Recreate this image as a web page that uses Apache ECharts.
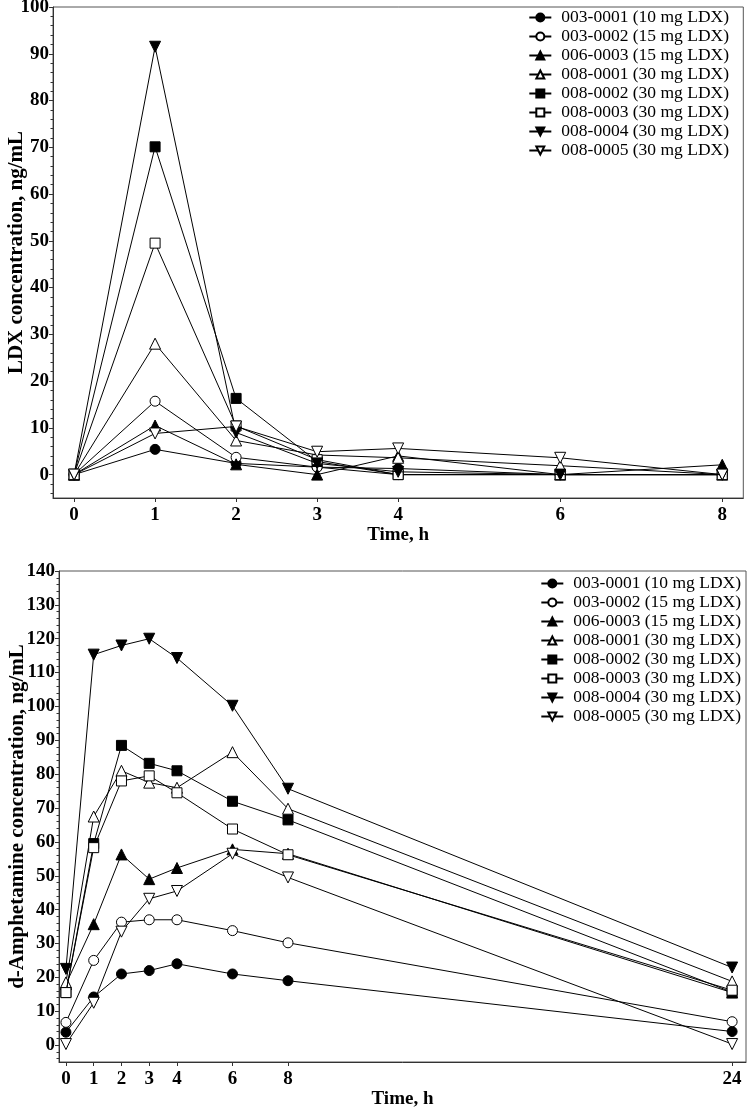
<!DOCTYPE html>
<html>
<head>
<meta charset="utf-8">
<script src="https://cdn.jsdelivr.net/npm/echarts@6/dist/echarts.min.js"></script>
<style>
html,body{margin:0;padding:0;background:#fff;}
#c{width:750px;height:1118px;}
</style>
</head>
<body>
<div id="c"></div>
<script>
// ---- data ----
var subjects = ['003-0001 (10 mg LDX)','003-0002 (15 mg LDX)','006-0003 (15 mg LDX)','008-0001 (30 mg LDX)','008-0002 (30 mg LDX)','008-0003 (30 mg LDX)','008-0004 (30 mg LDX)','008-0005 (30 mg LDX)'];

var ldxTimes = [0, 1, 2, 3, 4, 6, 8];
var ldx_003_0001 = [0, 5.4, 2.4, 1.6, 1.3, 0, 0];
var ldx_003_0002 = [0, 15.7, 3.7, 1.6, 0, 0, 0];
var ldx_006_0003 = [0, 10.5, 2.2, 0, 4.0, 0, 2.1];
var ldx_008_0001 = [0, 28.0, 7.3, 4.2, 3.6, 1.9, 0];
var ldx_008_0002 = [0, 70.1, 16.3, 2.8, 0, 0, 0];
var ldx_008_0003 = [0, 49.5, 10.4, 3.2, 0, 0, 0];
var ldx_008_0004 = [0, 91.5, 9.0, 2.4, 0.6, 0, 0];
var ldx_008_0005 = [0, 8.8, 10.3, 4.9, 5.6, 3.6, 0];

var ampTimes = [0, 1, 2, 3, 4, 6, 8, 24];
var amp_003_0001 = [3.8, 14.2, 21.0, 22.0, 24.0, 21.0, 19.0, 4.0];
var amp_003_0002 = [6.7, 25.0, 36.3, 37.0, 37.0, 33.8, 30.2, 6.9];
var amp_006_0003 = [18.0, 35.7, 56.3, 49.0, 52.3, 57.8, 56.5, 15.5];
var amp_008_0001 = [18.5, 67.5, 81.0, 77.5, 76.0, 86.5, 69.8, 18.8];
var amp_008_0002 = [15.5, 59.5, 88.5, 83.2, 81.0, 72.0, 66.5, 15.6];
var amp_008_0003 = [15.5, 58.3, 78.0, 79.5, 74.5, 63.8, 56.2, 16.2];
var amp_008_0004 = [22.5, 115.3, 118.0, 120.0, 114.3, 100.2, 75.7, 22.9];
var amp_008_0005 = [0.3, 12.5, 33.5, 43.2, 45.5, 56.5, 49.5, 0.3];

var ldxXTicks = [0, 1, 2, 3, 4, 6, 8];
var ldxYTicks = [0, 10, 20, 30, 40, 50, 60, 70, 80, 90, 100];
var ampXTicks = [0, 1, 2, 3, 4, 6, 8, 24];
var ampYTicks = [0, 10, 20, 30, 40, 50, 60, 70, 80, 90, 100, 110, 120, 130, 140];

var ldxSeries = [ldx_003_0001, ldx_003_0002, ldx_006_0003, ldx_008_0001, ldx_008_0002, ldx_008_0003, ldx_008_0004, ldx_008_0005];
var ampSeries = [amp_003_0001, amp_003_0002, amp_006_0003, amp_008_0001, amp_008_0002, amp_008_0003, amp_008_0004, amp_008_0005];

// ---- styling ----
var markers = [
  {symbol:'circle', fill:'#000', rot:0, size:10},
  {symbol:'circle', fill:'#fff', rot:0, size:10},
  {symbol:'triangle', fill:'#000', rot:0, size:11},
  {symbol:'triangle', fill:'#fff', rot:0, size:11},
  {symbol:'rect', fill:'#000', rot:0, size:10},
  {symbol:'rect', fill:'#fff', rot:0, size:10},
  {symbol:'triangle', fill:'#000', rot:180, size:11},
  {symbol:'triangle', fill:'#fff', rot:180, size:11}
];
var FONT = 'Liberation Serif, Times New Roman, serif';

function minorTicks(lo, hi, step, majors) {
  var out = [];
  for (var v = lo; v <= hi + 1e-9; v += step) {
    var r = Math.round(v * 100) / 100;
    if (majors.indexOf(r) < 0) out.push(r);
  }
  return out;
}

function buildSeries(times, arrs, gi) {
  return arrs.map(function (vals, i) {
    var m = markers[i];
    return {
      name: subjects[i],
      type: 'line',
      xAxisIndex: gi,
      yAxisIndex: gi * 2,
      data: times.map(function (t, k) { return [t, vals[k]]; }),
      symbol: m.symbol,
      symbolSize: m.size,
      symbolRotate: m.rot,
      showSymbol: true,
      lineStyle: {color: '#000', width: 1},
      itemStyle: {color: m.fill, borderColor: '#000', borderWidth: 1, opacity: 1},
      emphasis: {disabled: true},
      z: 2 + i
    };
  });
}

function xAxis(gi, min, max, ticks) {
  return {
    type: 'value', gridIndex: gi, min: min, max: max,
    name: 'Time, h', nameLocation: 'middle', nameGap: 25,
    nameTextStyle: {fontFamily: FONT, fontWeight: 'bold', fontSize: 19, color: '#000'},
    axisLine: {show: true, onZero: false, lineStyle: {color: '#333', width: 1}},
    axisTick: {show: true, customValues: ticks, length: 4, inside: false, lineStyle: {color: '#333'}},
    axisLabel: {customValues: ticks, fontFamily: FONT, fontWeight: 'bold', fontSize: 19, color: '#000', margin: 8},
    splitLine: {show: false}
  };
}

function yAxes(gi, min, max, ticks, title, gap) {
  return [{
    type: 'value', gridIndex: gi, min: min, max: max, position: 'left',
    name: title, nameLocation: 'middle', nameGap: gap, nameRotate: 90, nameMoveOverlap: false,
    nameTextStyle: {fontFamily: FONT, fontWeight: 'bold', fontSize: 21, color: '#000'},
    axisLine: {show: true, onZero: false, lineStyle: {color: '#333', width: 1}},
    axisTick: {show: true, customValues: ticks, length: 4, inside: false, lineStyle: {color: '#333'}},
    axisLabel: {customValues: ticks, fontFamily: FONT, fontWeight: 'bold', fontSize: 19, color: '#000', margin: 4},
    splitLine: {show: false}
  }, {
    type: 'value', gridIndex: gi, min: min, max: max, position: 'left', offset: 0,
    axisLine: {show: false, onZero: false},
    axisTick: {show: true, customValues: minorTicks(min + 1, max, 2, ticks), length: 2.5, inside: false, lineStyle: {color: '#333'}},
    axisLabel: {show: false},
    splitLine: {show: false}
  }];
}

function legend(top, right) {
  return {
    data: subjects, orient: 'vertical', top: top, right: right, padding: 0,
    itemWidth: 22, itemHeight: 10, itemGap: 0, align: 'left',
    textStyle: {fontFamily: FONT, fontSize: 17.5, color: '#000', lineHeight: 19, padding: [0, 0, 0, 5]},
    selectedMode: false
  };
}

var chart = echarts.init(document.getElementById('c'), null, {renderer: 'canvas'});
var option = {
  animation: false,
  backgroundColor: '#fff',
  grid: [
    {left: 53, right: 6.7, top: 7, height: 491, show: true, borderColor: '#555', borderWidth: 1, backgroundColor: 'transparent', containLabel: false, outerBoundsMode: 'none'},
    {left: 59, right: 4, top: 571, height: 491, show: true, borderColor: '#555', borderWidth: 1, backgroundColor: 'transparent', containLabel: false, outerBoundsMode: 'none'}
  ],
  legend: [legend(8, 21), legend(574, 9)],
  xAxis: [xAxis(0, -0.26, 8.26, ldxXTicks), xAxis(1, -0.25, 24.5, ampXTicks)],
  yAxis: yAxes(0, -5, 100, ldxYTicks, 'LDX concentration, ng/mL', 26)
    .concat(yAxes(1, -5, 140, ampYTicks, 'd-Amphetamine concentration, ng/mL', 31)),
  series: buildSeries(ldxTimes, ldxSeries, 0).concat(buildSeries(ampTimes, ampSeries, 1))
};
chart.setOption(option);
</script>
</body>
</html>
